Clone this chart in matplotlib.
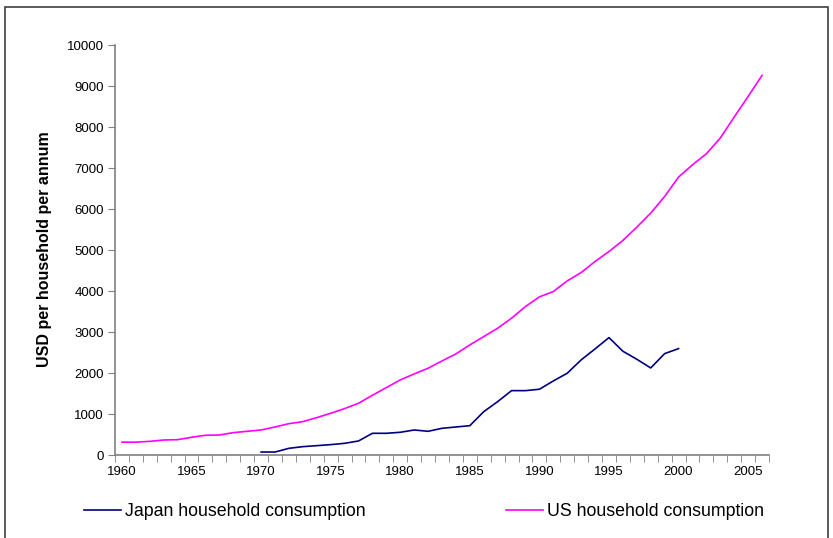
import matplotlib.pyplot as plt
from matplotlib.patches import Rectangle

plt.rcParams['font.family'] = ['Liberation Sans', 'DejaVu Sans']

years_us = list(range(1960, 2007))
us = [320, 320, 340, 373, 381, 439, 488, 495, 552, 585,
      617, 690, 771, 820, 918, 1024, 1138, 1268, 1463, 1650,
      1837, 1983, 2121, 2300, 2471, 2690, 2893, 3097, 3341, 3626,
      3861, 3991, 4251, 4455, 4723, 4967, 5235, 5560, 5902, 6308,
      6780, 7080, 7349, 7732, 8244, 8746, 9259]

years_jp = list(range(1970, 2001))
japan = [80, 80, 170, 211, 235, 260, 292, 349, 536, 536,
         561, 617, 585, 658, 690, 722, 1064, 1308, 1576, 1576,
         1610, 1812, 2000, 2325, 2593, 2869, 2536, 2341, 2129, 2478,
         2600]

W, H = 833, 538
fig = plt.figure(figsize=(W / 100, H / 100), dpi=100)
ax = fig.add_axes([115 / W, 1 - 455.3 / H, 654 / W, 410.3 / H])

ax.plot(years_jp, japan, color='#000080', lw=1.2, label='Japan household consumption')
ax.plot(years_us, us, color='#FF00FF', lw=1.2, label='US household consumption')

ax.set_xlim(1959.5, 2006.5)
ax.set_ylim(0, 10000)
ax.set_yticks(range(0, 10001, 1000))
ax.set_xticks(range(1960, 2006, 5))
ax.set_xticks([y + 0.5 for y in range(1959, 2007)], minor=True)
ax.tick_params(axis='x', which='major', length=0, labelsize=9.5, pad=8)
ax.tick_params(axis='x', which='minor', length=5, direction='out', color='#808080')
ax.tick_params(axis='y', length=5, direction='out', color='#808080', labelsize=9.5, pad=3)

for s in ('top', 'right'):
    ax.spines[s].set_visible(False)
for s in ('left', 'bottom'):
    ax.spines[s].set_color('#808080')
    ax.spines[s].set_linewidth(1.2)

fig.text(45 / W, 1 - 249 / H, 'USD per household per annum', rotation=90,
         ha='center', va='center', fontsize=11.5, fontweight='bold')

ax.legend(loc='center left', bbox_to_anchor=(85 / W - 0.01, 1 - 512 / H),
          bbox_transform=fig.transFigure, ncol=2, frameon=False,
          fontsize=12.8, handlelength=2.1, handletextpad=0.2,
          columnspacing=7.9, borderaxespad=0)

# outer chart frame
fig.patches.append(Rectangle((5 / W, -0.05), 823 / W, 1.05 - 7 / H,
                             transform=fig.transFigure, fill=False,
                             edgecolor='#404040', lw=1.2))

fig.savefig('out.png', dpi=100)
